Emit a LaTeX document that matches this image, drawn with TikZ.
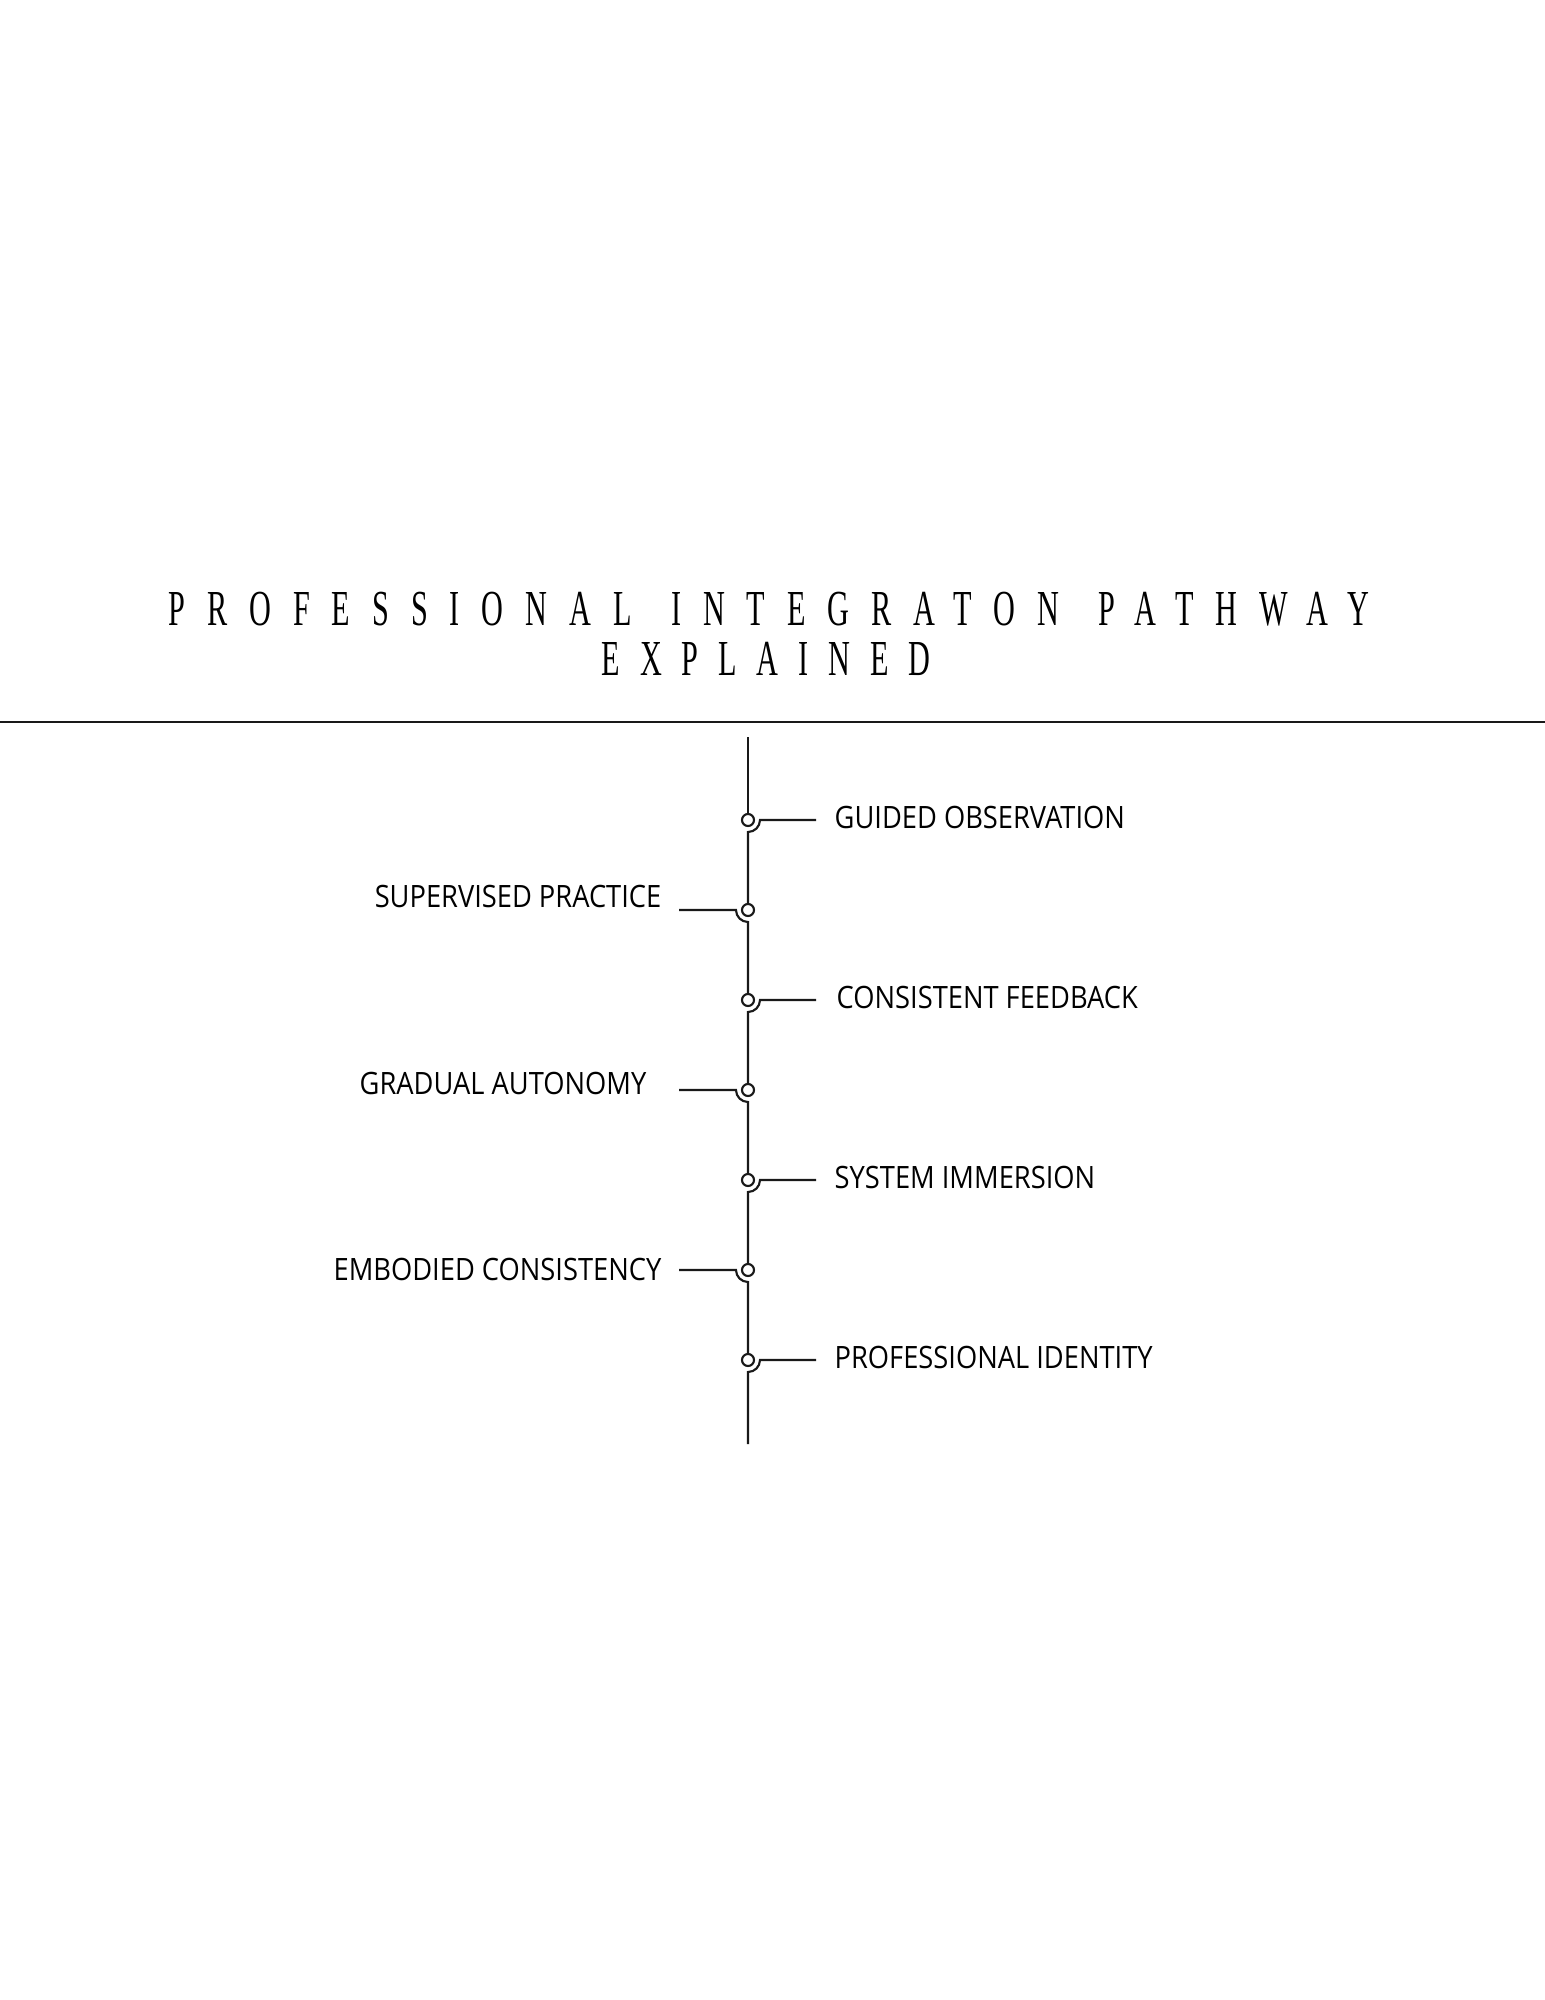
\documentclass[tikz,border=0pt]{standalone}
\usepackage{fontspec}
\usepackage{tikz}
\usetikzlibrary{positioning}
\newfontfamily\ttlfont[FakeStretch=0.6,LetterSpace=39.4]{Liberation Serif}
\newfontfamily\lblfont[FakeStretch=0.886]{Open Sans}
\newcommand{\wgap}{\hspace{1mm} }
\tikzset{
  pw_line/.style = {draw=black!90, line width=0.6pt},
  pw_dot/.style = {circle, draw=black!90, line width=0.6pt, fill=white,
    inner sep=0pt, minimum size=1.2mm},% point sur la ligne
  pw_r/.style = {inner sep=0pt, anchor=base west,
    font=\lblfont\fontsize{8.76pt}{10pt}\selectfont},% etiquette a droite
  pw_l/.style = {inner sep=0pt, anchor=base east,
    font=\lblfont\fontsize{8.76pt}{10pt}\selectfont},% etiquette a gauche
  pw_t/.style = {inner sep=0pt, anchor=base,
    font=\ttlfont\fontsize{14.34pt}{16pt}\selectfont}
}
\begin{document}
\begin{tikzpicture}
\useasboundingbox (0,0) rectangle (15.45,-20);
% titre
\node [pw_t] (t1) at (7.69,-6.25)
  {\addfontfeature{LetterSpace=43.5}PROFESSIONAL\wgap INTEGRATON\wgap PATHWAY};
\node [pw_t] (t2) at (7.66,-6.75) {EXPLAINED};
\coordinate (rl) at (0,-7.22);
\coordinate (rr) at (15.45,-7.22);
\draw [pw_line, line width=0.7pt] (rl) -- (rr);
% points
\coordinate (top) at (7.48,-7.37);
\coordinate (bot) at (7.48,-14.44);
\node [pw_dot] (o1) at (7.48,-8.20) {};
\node [pw_dot] (o2) at (7.48,-9.10) {};
\node [pw_dot] (o3) at (7.48,-10.00) {};
\node [pw_dot] (o4) at (7.48,-10.90) {};
\node [pw_dot] (o5) at (7.48,-11.80) {};
\node [pw_dot] (o6) at (7.48,-12.70) {};
\node [pw_dot] (o7) at (7.48,-13.60) {};
% bouts des branches
\coordinate (e1) at (8.16,-8.20);
\coordinate (e2) at (6.79,-9.10);
\coordinate (e3) at (8.16,-10.00);
\coordinate (e4) at (6.79,-10.90);
\coordinate (e5) at (8.16,-11.80);
\coordinate (e6) at (6.79,-12.70);
\coordinate (e7) at (8.16,-13.60);
% etiquettes
\node [pw_r] (l1) at (8.34,-8.28) {GUIDED OBSERVATION};
\node [pw_l] (l2) at (6.62,-9.07) {SUPERVISED PRACTICE};
\node [pw_r] (l3) at (8.36,-10.08) {CONSISTENT FEEDBACK};
\node [pw_l] (l4) at (6.47,-10.94) {GRADUAL AUTONOMY};
\node [pw_r] (l5) at (8.34,-11.88) {SYSTEM IMMERSION};
\node [pw_l] (l6) at (6.62,-12.80) {EMBODIED CONSISTENCY};
\node [pw_r] (l7) at (8.34,-13.68) {PROFESSIONAL IDENTITY};
% ligne
\draw [pw_line] (top) -- (o1.north);
\draw [pw_line] (e1) -- ([xshift=1.2mm]o1.center)
  arc[start angle=0, end angle=-90, radius=1.2mm] -- (o2.north);
\draw [pw_line] (e2) -- ([xshift=-1.2mm]o2.center)
  arc[start angle=180, end angle=270, radius=1.2mm] -- (o3.north);
\draw [pw_line] (e3) -- ([xshift=1.2mm]o3.center)
  arc[start angle=0, end angle=-90, radius=1.2mm] -- (o4.north);
\draw [pw_line] (e4) -- ([xshift=-1.2mm]o4.center)
  arc[start angle=180, end angle=270, radius=1.2mm] -- (o5.north);
\draw [pw_line] (e5) -- ([xshift=1.2mm]o5.center)
  arc[start angle=0, end angle=-90, radius=1.2mm] -- (o6.north);
\draw [pw_line] (e6) -- ([xshift=-1.2mm]o6.center)
  arc[start angle=180, end angle=270, radius=1.2mm] -- (o7.north);
\draw [pw_line] (e7) -- ([xshift=1.2mm]o7.center)
  arc[start angle=0, end angle=-90, radius=1.2mm] -- (bot);
\end{tikzpicture}
\end{document}
